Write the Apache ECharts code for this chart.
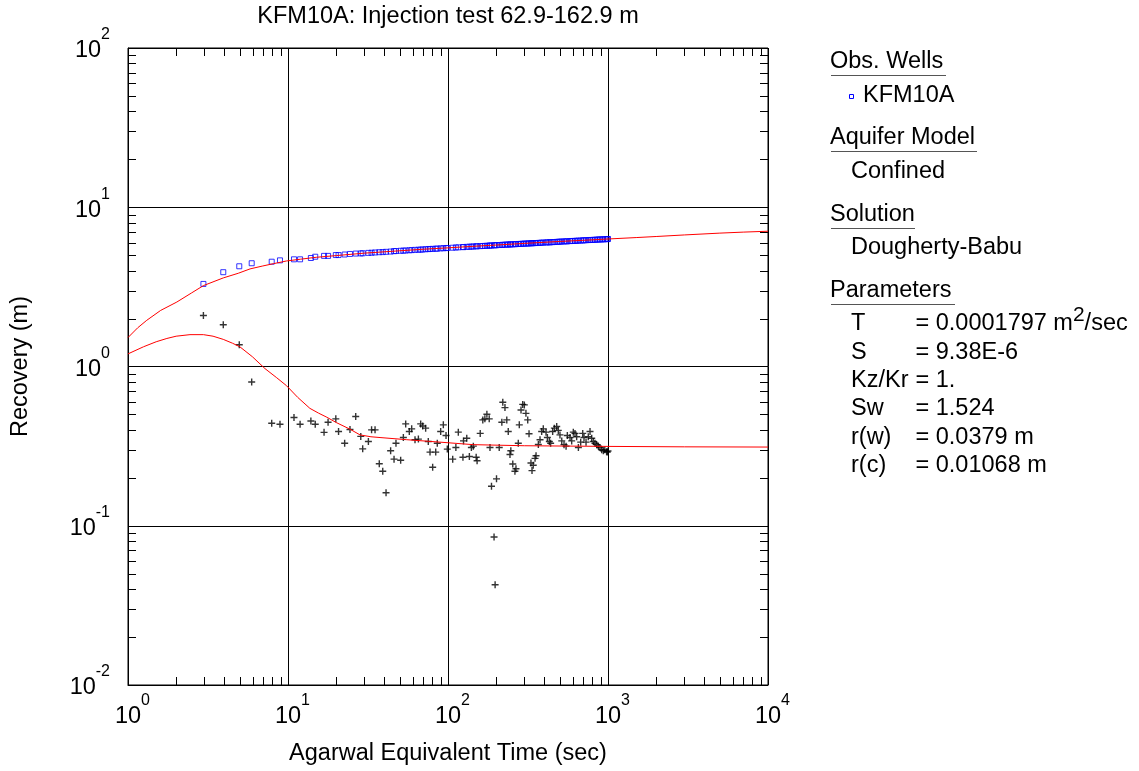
<!DOCTYPE html>
<html><head><meta charset="utf-8">
<script src="https://cdn.jsdelivr.net/npm/echarts@6/dist/echarts.min.js"></script>
<style>html,body{margin:0;padding:0;background:#fff}#c{width:1139px;height:771px}</style>
</head><body><div id="c"></div>
<script>
const titleText = 'KFM10A: Injection test 62.9-162.9 m';
const xName = 'Agarwal Equivalent Time (sec)';
const yName = 'Recovery (m)';
const seriesName = 'KFM10A';

// Observed recovery (blue squares): [time s, recovery m]
const recoveryData = [
  [2.96,3.30],[3.94,3.91],[4.96,4.26],[5.93,4.45],[7.91,4.55],[8.91,4.64],[10.9,4.71],[11.9,4.71],
  [13.9,4.80],[14.8,4.89],[16.8,4.95],[17.8,4.95],[19.9,5.01],[20.7,5.01],[22.6,5.05],[24.4,5.09],
  [26.5,5.12],[28.5,5.13],[29.3,5.14],[31.8,5.17],[33.3,5.18],[35.0,5.20],[37.2,5.22],[39.1,5.23],
  [41.0,5.25],[43.8,5.27],[46.0,5.30],[47.3,5.31],[50.6,5.33],[52.6,5.34],[54.4,5.35],[57.3,5.37],
  [59.3,5.38],[62.2,5.40],[65.3,5.41],[67.5,5.42],[69.5,5.43],[72.5,5.45],[75.3,5.46],[77.2,5.47],
  [80.2,5.48],[83.8,5.49],[85.7,5.50],[90,5.52],[93.5,5.53],[97.2,5.54],[99,5.55],[107,5.57],
  [112,5.59],[116,5.60],[124,5.62],[125,5.62],[131,5.64],[136,5.65],[140,5.66],[144,5.67],
  [150,5.68],[152,5.69],[159,5.70],[165,5.71],[170,5.72],[175,5.73],[181,5.74],[183,5.75],
  [187,5.75],[194,5.77],[197,5.77],[201,5.78],[209,5.79],[217,5.80],[220,5.81],[227,5.82],
  [233,5.83],[238,5.83],[244,5.84],[247,5.85],[254,5.85],[262,5.86],[266,5.87],[275,5.88],
  [279,5.88],[286,5.89],[293,5.90],[300,5.91],[307,5.91],[315,5.92],[321,5.93],[330,5.94],
  [335,5.94],[341,5.95],[350,5.96],[355,5.96],[367,5.97],[376,5.98],[385,5.99],[394,6.00],
  [410,6.01],[418,6.02],[430,6.02],[438,6.03],[451,6.04],[462,6.05],[478,6.06],[489,6.07],
  [501,6.08],[514,6.09],[531,6.10],[547,6.11],[557,6.11],[579,6.13],[593,6.14],[607,6.14],
  [622,6.15],[637,6.16],[653,6.17],[675,6.18],[695,6.19],[708,6.20],[729,6.21],[753,6.22],
  [772,6.23],[791,6.23],[810,6.24],[829,6.25],[850,6.26],[871,6.27],[891,6.28],[913,6.28],
  [935,6.29],[955,6.30],[980,6.31],[990,6.31],[1000,6.32]
];

// Derivative (black crosses): [time s, value]
const derivativeData = [
  [2.96,2.09],[3.94,1.83],[4.96,1.37],[5.93,0.80],[7.91,0.44],[8.91,0.434],[10.9,0.478],[11.9,0.434],
  [13.9,0.455],[14.8,0.434],[16.8,0.386],[17.8,0.447],[19.9,0.469],[20.7,0.391],[22.6,0.330],[24.4,0.402],
  [26.5,0.485],[28.5,0.364],[29.3,0.304],[31.8,0.338],[33.3,0.40],[35.0,0.40],[37.2,0.245],[39.1,0.22],
  [41.0,0.161],[43.8,0.296],[46.0,0.262],[47.3,0.330],[50.6,0.258],[52.6,0.358],[54.4,0.436],[57.3,0.391],
  [59.3,0.406],[62.2,0.347],[65.3,0.35],[67.5,0.436],[69.5,0.423],[72.5,0.41],[75.3,0.338],[77.2,0.290],
  [80.2,0.233],[83.8,0.29],[85.7,0.33],[90,0.391],[93.5,0.43],[97.2,0.369],[99,0.303],[107,0.262],
  [112,0.31],[116,0.387],[124,0.269],[125,0.341],[131,0.354],[136,0.272],[140,0.31],[144,0.316],
  [150,0.269],[152,0.256],[159,0.38],[165,0.462],[170,0.469],[175,0.501],[181,0.469],[183,0.31],
  [187,0.177],[194,0.085],[197,0.0426],[201,0.197],[209,0.31],[217,0.447],[220,0.596],[227,0.552],
  [233,0.462],[238,0.391],[244,0.28],[247,0.296],[254,0.244],[262,0.22],[266,0.228],[275,0.33],
  [279,0.43],[286,0.533],[293,0.578],[300,0.574],[307,0.508],[315,0.462],[321,0.378],[330,0.248],
  [335,0.222],[341,0.24],[350,0.265],[355,0.275],[367,0.324],[376,0.347],[385,0.391],[394,0.406],
  [410,0.387],[418,0.358],[430,0.338],[438,0.33],[451,0.391],[462,0.41],[478,0.42],[489,0.397],
  [501,0.372],[514,0.341],[531,0.323],[547,0.316],[557,0.369],[579,0.358],[593,0.341],[607,0.387],
  [622,0.38],[637,0.362],[653,0.31],[675,0.335],[695,0.38],[708,0.358],[729,0.335],[753,0.362],
  [772,0.391],[791,0.354],[810,0.338],[829,0.33],[850,0.323],[871,0.316],[891,0.31],[913,0.30],
  [935,0.296],[955,0.30],[980,0.292],[990,0.29],[1000,0.295]
];

// Fitted curves (red)
const fitRecovery = [
  [1,1.52],[1.15,1.75],[1.31,1.95],[1.6,2.25],[2.02,2.54],[2.5,2.9],[2.96,3.22],[3.94,3.6],
  [4.89,3.85],[5.79,4.1],[6.9,4.27],[8.09,4.42],[9.8,4.6],[12,4.72],[15,4.85],[20,4.97],
  [30,5.15],[50,5.33],[70,5.45],[100,5.56],[150,5.7],[200,5.79],[300,5.93],[500,6.1],
  [700,6.2],[1000,6.32],[1500,6.45],[2000,6.55],[3000,6.7],[5000,6.88],[7000,6.98],[10000,7.07]
];
const fitDerivative = [
  [1,1.2],[1.25,1.33],[1.5,1.43],[1.75,1.5],[2.0,1.55],[2.44,1.585],[2.96,1.585],[3.4,1.55],
  [3.94,1.48],[4.5,1.4],[5.0,1.33],[6,1.15],[7.18,0.97],[8.5,0.85],[9.8,0.757],[11.5,0.64],
  [13.7,0.546],[15.5,0.51],[17.5,0.48],[20,0.445],[24.4,0.404],[28.2,0.372],[33,0.362],[37.6,0.358],
  [55.2,0.347],[89,0.335],[144,0.323],[300,0.318],[1000,0.315],[3000,0.313],[10000,0.312]
];

const xMin = 1, xMax = 10000, yMin = 0.01, yMax = 100;
const xMinorTicks = [2,3,4,5,6,7,8,9,20,30,40,50,60,70,80,90,200,300,400,500,600,700,800,900,2000,3000,4000,5000,6000,7000,8000,9000];
const yMinorTicks = [0.02,0.03,0.04,0.05,0.06,0.07,0.08,0.09,0.2,0.3,0.4,0.5,0.6,0.7,0.8,0.9,2,3,4,5,6,7,8,9,20,30,40,50,60,70,80,90];

const legendHeads = ['Obs. Wells','Aquifer Model','Solution','Parameters'];
const legendItems = ['Confined','Dougherty-Babu'];
const paramNames = ['T','S','Kz/Kr','Sw','r(w)','r(c)'];
const paramValues = ['= 0.0001797 m{s|2}/sec','= 9.38E-6','= 1.','= 1.524','= 0.0379 m','= 0.01068 m'];

const FONT = '"Liberation Sans", Arial, Helvetica, sans-serif';
const FS = 23.5;
const SUP = 16;

const tickData = xMinorTicks.map(t => [t, yMin, 0]).concat(yMinorTicks.map(v => [xMin, v, 1]));

function renderTicks(params, api) {
  const kind = api.value(2);
  const L = 8;
  const st = {stroke:'#000', lineWidth:1};
  if (kind === 0) {
    const b = api.coord([api.value(0), yMin]);
    const t = api.coord([api.value(0), yMax]);
    const x = Math.round(b[0]) + 0.5;
    return {type:'group', children:[
      {type:'line', shape:{x1:x,y1:b[1],x2:x,y2:b[1]-L}, style:st},
      {type:'line', shape:{x1:x,y1:t[1],x2:x,y2:t[1]+L}, style:st}
    ]};
  } else {
    const l = api.coord([xMin, api.value(1)]);
    const r = api.coord([xMax, api.value(1)]);
    const y = Math.round(l[1]) + 0.5;
    return {type:'group', children:[
      {type:'line', shape:{x1:l[0],y1:y,x2:l[0]+L,y2:y}, style:st},
      {type:'line', shape:{x1:r[0],y1:y,x2:r[0]-L,y2:y}, style:st}
    ]};
  }
}

const expOf = v => String(Math.round(Math.log10(v)));

const graphics = [];
function txt(x, y, text, extra) {
  graphics.push({type:'text', x:x, y:y, silent:true,
    style:Object.assign({text:text, fill:'#000', fontSize:FS, fontFamily:FONT, align:'left', verticalAlign:'middle'}, extra||{})});
}
function uline(x1, x2, y) {
  graphics.push({type:'line', silent:true, shape:{x1:x1,y1:y,x2:x2,y2:y}, style:{stroke:'#555', lineWidth:1}});
}
txt(448, 17, titleText, {align:'center'});
txt(830, 61.5, legendHeads[0]); uline(831, 946, 75.5);
graphics.push({type:'rect', silent:true, shape:{x:849.5,y:94.5,width:4,height:4}, style:{fill:'#fff', stroke:'#0000ff', lineWidth:1}});
txt(863, 96, seriesName);
txt(830, 138, legendHeads[1]); uline(831, 977, 151.5);
txt(851, 171.5, legendItems[0]);
txt(830, 214.5, legendHeads[2]); uline(831, 915, 228.5);
txt(851, 248, legendItems[1]);
txt(830, 290.5, legendHeads[3]); uline(831, 955, 304.5);
const pY = [324, 352.5, 380.5, 409, 437.5, 466];
paramNames.forEach((n, i) => {
  txt(851, pY[i], n);
  txt(915.5, pY[i], paramValues[i], {lineHeight: 38, rich:{s:{fontSize:21, fontFamily:FONT, fill:'#000', verticalAlign:'top'}}});
});

const chart = echarts.init(document.getElementById('c'));
chart.setOption({
  animation: false,
  backgroundColor: '#fff',
  grid: {left:128, top:48, width:640, height:640, show:true, borderColor:'#000', borderWidth:1, backgroundColor:'transparent'},
  xAxis: {
    type:'log', logBase:10, min:xMin, max:xMax,
    name: xName, nameLocation:'middle', nameGap:57,
    nameTextStyle:{fontSize:FS, color:'#000', fontFamily:FONT},
    axisLine:{show:true, lineStyle:{color:'#000', width:1}},
    axisTick:{show:true, inside:true, length:9, lineStyle:{color:'#000'}},
    splitLine:{show:true, lineStyle:{color:'#000', width:1}},
    minorTick:{show:false}, minorSplitLine:{show:false},
    axisLabel:{
      margin:8, color:'#000', fontFamily:FONT,
      formatter: v => '{p|}{b|10}{s|' + expOf(v) + '}',
      rich:{
        p:{width:9},
        b:{fontSize:FS, fontFamily:FONT, color:'#000', lineHeight:36, verticalAlign:'bottom'},
        s:{fontSize:SUP, fontFamily:FONT, color:'#000', verticalAlign:'top'}
      }
    }
  },
  yAxis: {
    type:'log', logBase:10, min:yMin, max:yMax,
    name: yName, nameLocation:'middle', nameGap:95, nameRotate:90,
    nameTextStyle:{fontSize:FS, color:'#000', fontFamily:FONT},
    axisLine:{show:true, lineStyle:{color:'#000', width:1}},
    axisTick:{show:true, inside:true, length:9, lineStyle:{color:'#000'}},
    splitLine:{show:true, lineStyle:{color:'#000', width:1}},
    minorTick:{show:false}, minorSplitLine:{show:false},
    axisLabel:{
      margin:18, color:'#000', fontFamily:FONT, padding:[0,0,6,0],
      formatter: v => '{b|10}{s|' + expOf(v) + '}',
      rich:{
        b:{fontSize:FS, fontFamily:FONT, color:'#000', lineHeight:36, verticalAlign:'bottom'},
        s:{fontSize:SUP, fontFamily:FONT, color:'#000', verticalAlign:'top'}
      }
    }
  },
  graphic: graphics,
  series: [
    {type:'custom', name:'ticks', data:tickData, encode:{x:0, y:1}, renderItem:renderTicks, clip:false, silent:true, z:1},
    {type:'scatter', name:seriesName, data:recoveryData, symbol:'rect', symbolSize:5,
      itemStyle:{color:'transparent', borderColor:'#0000ff', borderWidth:1}, z:2},
    {type:'scatter', name:'derivative', data:derivativeData,
      symbol:'path://M4,0h2v4h4v2h-4v4h-2v-4h-4v-2h4z', symbolSize:7,
      itemStyle:{color:'#000'}, z:2},
    {type:'line', name:'fit1', data:fitRecovery, showSymbol:false, symbol:'none', smooth:false,
      lineStyle:{color:'#ff0000', width:1}, z:3},
    {type:'line', name:'fit2', data:fitDerivative, showSymbol:false, symbol:'none', smooth:false,
      lineStyle:{color:'#ff0000', width:1}, z:3}
  ]
});
</script></body></html>
